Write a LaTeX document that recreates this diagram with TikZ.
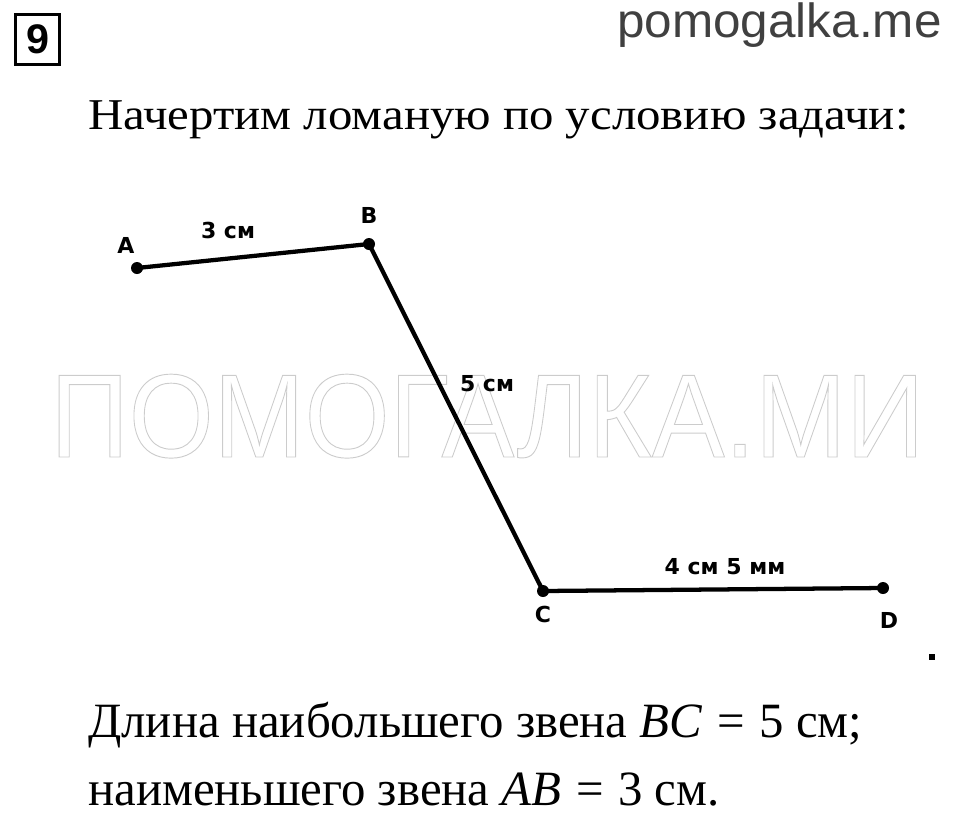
\documentclass[tikz,border=0pt]{standalone}
\usepackage{fontspec}
\setmainfont{Liberation Serif}
\setsansfont{Liberation Sans}
\newfontfamily\lblfont{DejaVu Sans}
\newcommand{\outlinetext}[1]{\special{pdf:code 1 Tr 0.7 w}#1\special{pdf:code 0 Tr}}

\begin{document}
\begin{tikzpicture}[x=0.75pt,y=-0.75pt]
	\tikzset{
		pt/.style={circle, fill=black, inner sep=0pt, minimum size=9pt},
		lbl/.style={font=\lblfont\bfseries\fontsize{16.5}{18}\selectfont, inner sep=0pt},
		seg/.style={line width=3.2pt},
		body/.style={inner sep=0pt, anchor=base west}
	}
	\useasboundingbox (0,0) rectangle (960,829);

	% watermark
	\node[body, font=\sffamily\fontsize{89}{89}\selectfont, text=black!20] (wm) at (50,457)
		{\scalebox{0.92}[1]{\outlinetext{ПОМОГАЛКА.МИ}}};

	% header
	\node[draw, line width=2.2pt, minimum width=33pt, minimum height=38pt, inner sep=0pt,
		font=\sffamily\bfseries\fontsize{31}{31}\selectfont] (num) at (37.5,39.5) {9};
	\node[body, font=\sffamily\fontsize{36}{36}\selectfont, text=black!75] (site) at (617,37)
		{\scalebox{1.03}[1]{pomogalka.me}};
	\node[body, font=\fontsize{33}{33}\selectfont] (task) at (88,129)
		{\scalebox{1.11}[1]{Начертим ломаную по условию задачи:}};

	% broken line
	\node[pt] (A) at (137,268) {};
	\node[pt] (B) at (369,244) {};
	\node[pt] (C) at (543,591) {};
	\node[pt] (D) at (883,588) {};
	\draw[seg] (A.center) -- (B.center) -- (C.center) -- (D.center);

	\node[lbl] (lA) at (126,245) {A};
	\node[lbl] (lB) at (369,215) {B};
	\node[lbl] (lC) at (543,614) {C};
	\node[lbl] (lD) at (889,620) {D};
	\node[lbl] (AB) at (228,230) {3 см};
	\node[lbl] (BC) at (487,384) {5 см};
	\node[lbl] (CD) at (725,567) {4 см 5 мм};
	\node[fill=black, minimum size=3.8pt, inner sep=0pt] (end) at (932,657) {};

	% answer
	\node[body, font=\fontsize{37}{37}\selectfont] (ans1) at (88,737)
		{\scalebox{0.99}[1]{Длина наибольшего звена \textit{BC}\hspace{0.3em}=\hspace{0.3em}5 см;}};
	\node[body, font=\fontsize{37}{37}\selectfont] (ans2) at (88,805)
		{\scalebox{0.99}[1]{наименьшего звена \textit{AB}\hspace{0.3em}=\hspace{0.3em}3 см.}};
\end{tikzpicture}
\end{document}
